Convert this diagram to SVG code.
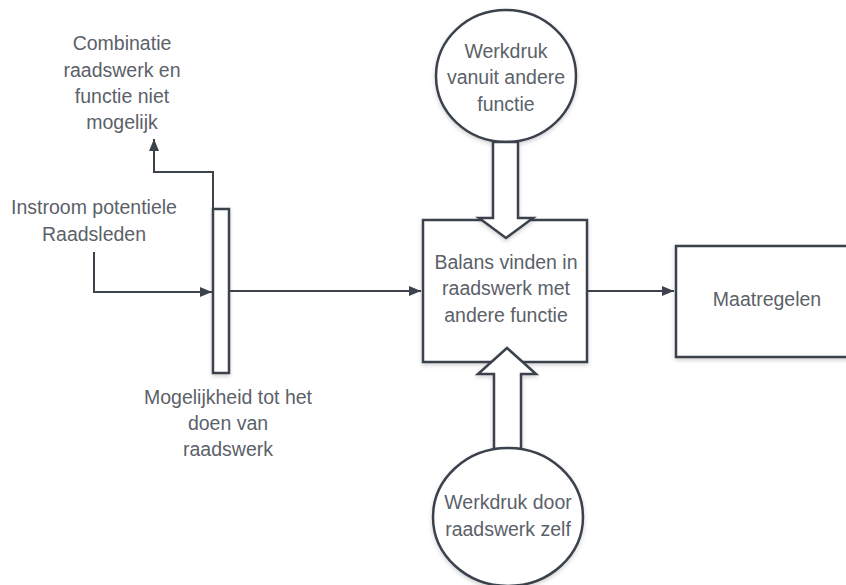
<svg xmlns="http://www.w3.org/2000/svg" width="846" height="585" viewBox="0 0 846 585">
<defs>
<marker id="ah" markerWidth="12" markerHeight="10" refX="12" refY="5" orient="auto" markerUnits="userSpaceOnUse">
<path d="M0,0 L12,5 L0,10 Z" fill="#3d434a"/>
</marker>
<filter id="sh" x="-20%" y="-20%" width="140%" height="140%">
<feDropShadow dx="0" dy="2" stdDeviation="2" flood-color="#000" flood-opacity="0.18"/>
</filter>
</defs>
<style>
.s{fill:#fff;stroke:#3a424c;stroke-width:2.5}
.t{font-family:"Liberation Sans",Arial,sans-serif;font-size:19.5px;fill:#5b6169;text-anchor:middle}
.c{fill:none;stroke:#3d434a;stroke-width:2}
</style>
<rect width="846" height="585" fill="#fff"/>
<g id="connectors">
<path class="c" d="M213,209 V172 H154 V139" marker-end="url(#ah)"/>
<path class="c" d="M94,252 V292 H212" marker-end="url(#ah)"/>
<path class="c" d="M230,291 H421" marker-end="url(#ah)"/>
<path class="c" d="M588,291 H674" marker-end="url(#ah)"/>
</g>
<g id="node-combinatie">
<text class="t" x="122" y="50">Combinatie</text>
<text class="t" x="122" y="77">raadswerk en</text>
<text class="t" x="122" y="103">functie niet</text>
<text class="t" x="122" y="129">mogelijk</text>
</g>
<g id="node-instroom">
<text class="t" x="94" y="214">Instroom potentiele</text>
<text class="t" x="94" y="241">Raadsleden</text>
</g>
<g id="node-bar">
<rect class="s" x="213" y="209" width="16" height="164" filter="url(#sh)"/>
<text class="t" x="228" y="404">Mogelijkheid tot het</text>
<text class="t" x="228" y="430">doen van</text>
<text class="t" x="228" y="456">raadswerk</text>
</g>
<g id="node-werkdruk-top">
<ellipse class="s" cx="506" cy="76" rx="70" ry="66" filter="url(#sh)"/>
<text class="t" x="506" y="58">Werkdruk</text>
<text class="t" x="506" y="84">vanuit andere</text>
<text class="t" x="506" y="111">functie</text>
</g>
<g id="node-balans">
<rect class="s" x="423" y="220" width="164" height="142" filter="url(#sh)"/>
<text class="t" x="506" y="269">Balans vinden in</text>
<text class="t" x="506" y="295">raadswerk met</text>
<text class="t" x="506" y="322">andere functie</text>
</g>
<g id="arrow-top">
<path class="s" d="M493,142 H518 V218 H533 L506,238 L479,218 H493 Z" filter="url(#sh)"/>
</g>
<g id="arrow-bottom">
<path class="s" d="M494,449 V374 H478 L507,348 L536,374 H521 V449 Z" filter="url(#sh)"/>
</g>
<g id="node-werkdruk-bottom">
<ellipse class="s" cx="508" cy="517" rx="75" ry="69" filter="url(#sh)"/>
<text class="t" x="508" y="509">Werkdruk door</text>
<text class="t" x="508" y="536">raadswerk zelf</text>
</g>
<g id="node-maatregelen">
<rect class="s" x="676" y="246" width="172" height="111" filter="url(#sh)"/>
<text class="t" x="767" y="306">Maatregelen</text>
</g>
</svg>
